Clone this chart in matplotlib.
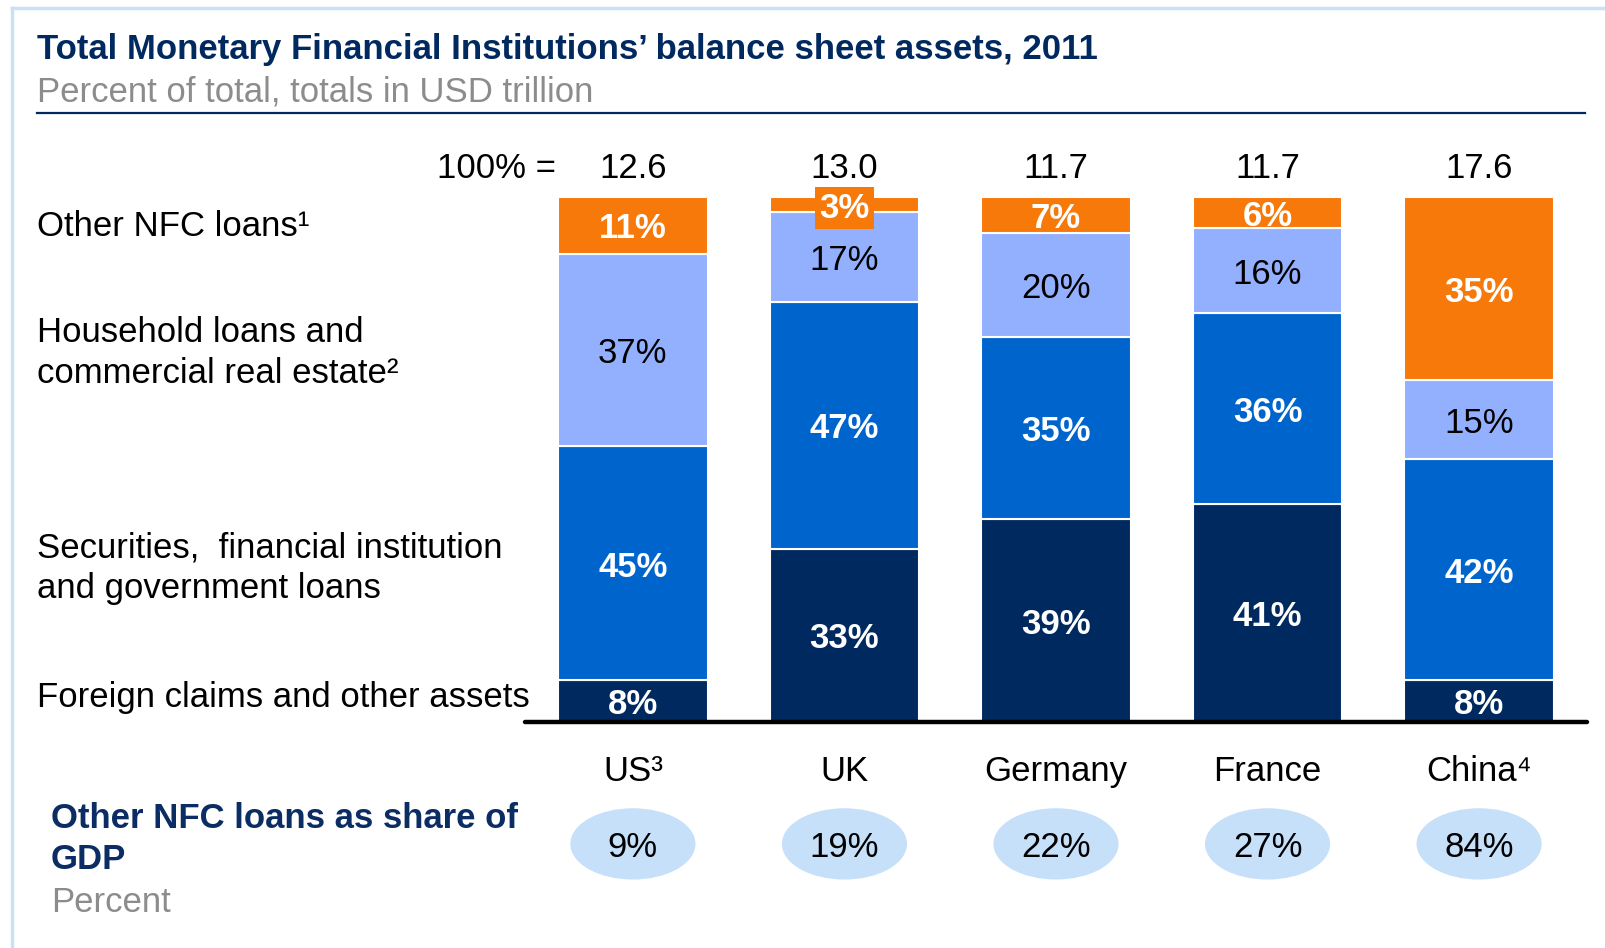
import numpy as np
import matplotlib
matplotlib.use("Agg")
import matplotlib.pyplot as plt
from matplotlib.patches import Ellipse
from matplotlib.lines import Line2D

plt.rcParams['font.family'] = ['Liberation Sans', 'DejaVu Sans']

# DATA
countries = ['US³', 'UK', 'Germany', 'France', 'China⁴']
totals_usd_tn = [12.6, 13.0, 11.7, 11.7, 17.6]
foreign_claims = [8, 33, 39, 41, 8]
securities = [45, 47, 35, 36, 42]
household = [37, 17, 20, 16, 15]
other_nfc = [11, 3, 7, 6, 35]
nfc_share_gdp = [9, 19, 22, 27, 84]

NAVY = '#002960'
MIDBLUE = '#0064cd'
LIGHTBLUE = '#93b0ff'
ORANGE = '#f7790a'
GREY = '#8c8c8c'
BORDER = '#c8e0f8'
BUBBLE = '#c6e0fa'

W, H = 1606, 948
fig = plt.figure(figsize=(W / 100, H / 100), dpi=100)

def fx(px): return px / W
def fy(py): return 1 - py / H

# frame lines (top + left) and title rule
fig.add_artist(Line2D([fx(12), fx(12)], [fy(8), 0], color=BORDER, lw=2.5))
fig.add_artist(Line2D([fx(12), 1], [fy(8), fy(8)], color=BORDER, lw=2.5))
fig.add_artist(Line2D([fx(37), fx(1585)], [fy(112.5), fy(112.5)], color=NAVY, lw=1.6))

fs = 25
fig.text(fx(37), fy(50), 'Total Monetary Financial Institutions\u2019 balance sheet assets, 2011',
         fontsize=fs, fontweight='bold', color=NAVY, va='center')
fig.text(fx(37), fy(92), 'Percent of total, totals in USD trillion',
         fontsize=fs, color=GREY, va='center')

# row labels on the left
fig.text(fx(37), fy(227), 'Other NFC loans¹', fontsize=fs, va='center')
fig.text(fx(37), fy(353), 'Household loans and\ncommercial real estate²', fontsize=fs,
         va='center', linespacing=1.3)
fig.text(fx(37), fy(568), 'Securities,  financial institution\nand government loans', fontsize=fs,
         va='center', linespacing=1.3)
fig.text(fx(37), fy(697), 'Foreign claims and other assets', fontsize=fs, va='center')

fig.text(fx(51), fy(839), 'Other NFC loans as share of\nGDP', fontsize=fs, fontweight='bold',
         color='#0b2d63', va='center', linespacing=1.3)
fig.text(fx(51), fy(902), 'Percent', fontsize=fs, color=GREY, va='center')

# bar axes
ax_left, ax_right = 525, 1587
ax_top, ax_bot = 196.6, 722
ax = fig.add_axes([fx(ax_left), fy(ax_bot), (ax_right - ax_left) / W, (ax_bot - ax_top) / H])
ax.set_xlim(-0.51, 4.51)
ax.set_ylim(0, 100)
ax.axis('off')

dy = -0.7  # small nudge so text sits where the reference puts it

x = np.arange(len(countries))
series = [foreign_claims, securities, household, other_nfc]
colors = [NAVY, MIDBLUE, LIGHTBLUE, ORANGE]
col_sum = np.sum(series, axis=0)
bottom = np.zeros(len(countries))
bar_w = 0.707

for vals, c in zip(series, colors):
    vals = np.array(vals, dtype=float)
    h = vals / col_sum * 100
    ax.bar(x, h, bottom=bottom, width=bar_w, color=c, edgecolor='white', linewidth=1.5)
    for i in range(len(x)):
        dark = c != LIGHTBLUE
        kw = {}
        if h[i] < 4:
            kw['bbox'] = dict(boxstyle='square,pad=0.12', fc=ORANGE, ec='none')
        ax.text(x[i], bottom[i] + h[i] / 2 + dy, f'{int(vals[i])}%', ha='center', va='center',
                fontsize=fs, color='white' if dark else 'black',
                fontweight='bold' if dark else 'normal', **kw)
    bottom += h

ax.axhline(0, xmin=0, xmax=1, color='black', lw=3.2, solid_capstyle='round', clip_on=False)

# totals row
ax.text(-bar_w / 2 - 0.01, 106 + dy, '100% =', ha='right', va='center', fontsize=fs, clip_on=False)
for i, t in enumerate(totals_usd_tn):
    ax.text(x[i], 106 + dy, f'{t:.1f}', ha='center', va='center', fontsize=fs, clip_on=False)

# country names and GDP bubbles
for i, name in enumerate(countries):
    ax.text(x[i], -8.8 + dy, name, ha='center', va='center', fontsize=fs, clip_on=False)
    ax.add_patch(Ellipse((x[i], -23.2), 0.585, 13.3, color=BUBBLE, clip_on=False))
    ax.text(x[i], -23.2 + dy, f'{nfc_share_gdp[i]}%', ha='center', va='center', fontsize=fs,
            clip_on=False)

fig.savefig('out.png', dpi=100)
